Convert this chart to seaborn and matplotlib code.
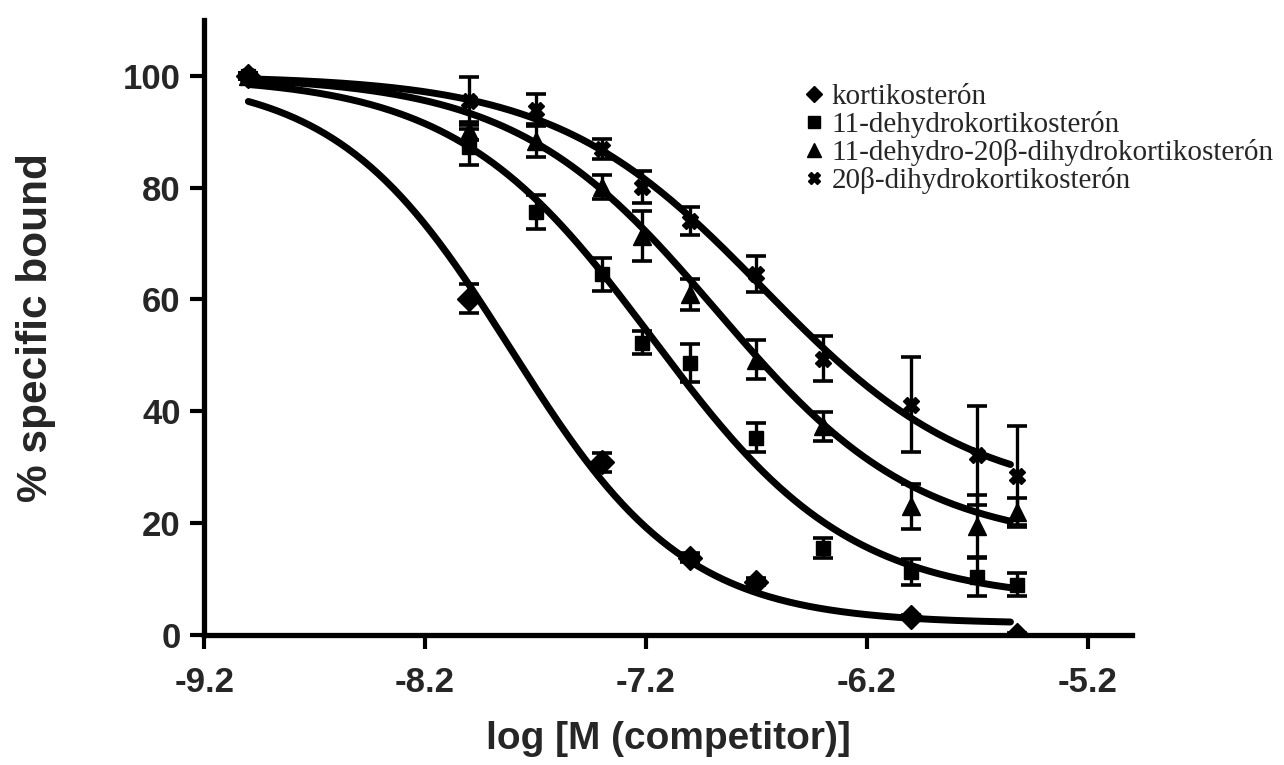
import numpy as np
import pandas as pd
import matplotlib
matplotlib.use("Agg")
import matplotlib.pyplot as plt
import seaborn as sns
from matplotlib.lines import Line2D

# log concentrations (M)
x_korti = [-9.0, -8.0, -7.4, -7.0, -6.7, -6.0, -5.52]
x_all = [-9.0, -8.0, -7.7, -7.4, -7.22, -7.0, -6.7, -6.4, -6.0, -5.7, -5.52]

# % specific bound, mean and error
y_korti = [100, 60.1, 30.9, 13.8, 9.5, 3.2, 0.0]
e_korti = [0.5, 2.6, 1.7, 0.8, 0.6, 0.4, 0.3]

y_dehydro = [100, 87.3, 75.6, 64.5, 52.3, 48.7, 35.3, 15.6, 11.3, 10.4, 9.0]
e_dehydro = [0.5, 3.2, 3.0, 2.9, 2.0, 3.4, 2.6, 1.8, 2.3, 3.5, 2.0]

y_dehydro20b = [100, 90.1, 88.4, 80.1, 71.3, 60.9, 49.2, 37.3, 23.0, 19.4, 21.9]
e_dehydro20b = [0.5, 1.6, 3.0, 2.2, 4.5, 2.7, 3.5, 2.6, 4.0, 5.6, 2.6]

y_dihydro20b = [100, 95.5, 93.9, 86.9, 80.1, 74.0, 64.5, 49.4, 41.2, 32.1, 28.5]
e_dihydro20b = [0.5, 4.3, 2.8, 1.8, 2.8, 2.5, 3.2, 4.0, 8.5, 8.8, 8.8]

labels = ["kortikosterón", "11-dehydrokortikosterón",
          "11-dehydro-20β-dihydrokortikosterón", "20β-dihydrokortikosterón"]
markers = ["D", "s", "^", "X"]

# one-site competition fit: top, bottom, logIC50, hill slope
fit_top = [100, 100, 100, 100]
fit_bottom = [2, 6, 16, 24]
fit_logic50 = [-7.81, -7.17, -6.88, -6.67]
fit_hill = [1.1, 0.97, 0.95, 0.92]
fit_range = (-9.0, -5.55)

sns.set_style("ticks")
plt.rcParams['font.family'] = ['Liberation Sans', 'DejaVu Sans']

fig = plt.figure(figsize=(12.84, 7.65), dpi=100)
ax = fig.add_axes([0.159, 0.170, 0.7226, 0.804])

series = [
    (x_korti, y_korti, e_korti),
    (x_all, y_dehydro, e_dehydro),
    (x_all, y_dehydro20b, e_dehydro20b),
    (x_all, y_dihydro20b, e_dihydro20b),
]
msizes = [12, 10, 13, 12]

xs = np.linspace(fit_range[0], fit_range[1], 300)
curves = []
for i, lab in enumerate(labels):
    yc = fit_bottom[i] + (fit_top[i] - fit_bottom[i]) / (1 + 10 ** (fit_hill[i] * (xs - fit_logic50[i])))
    curves.append(pd.DataFrame({"x": xs, "y": yc, "series": lab}))
curve_df = pd.concat(curves)

for i, (xv, yv, ev) in enumerate(series):
    ax.errorbar(xv, yv, yerr=ev, fmt=markers[i], color="black", ms=msizes[i],
                elinewidth=2.4, capsize=7, capthick=2.6, zorder=3)

sns.lineplot(data=curve_df, x="x", y="y", units="series", estimator=None,
             color="black", linewidth=5, ax=ax, zorder=2, legend=False)

ax.set_xlim(-9.2, -5.0)
ax.set_ylim(0, 110)
ax.set_xticks([-9.2, -8.2, -7.2, -6.2, -5.2])
ax.set_xticklabels(["-9.2", "-8.2", "-7.2", "-6.2", "-5.2"])
ax.set_yticks([0, 20, 40, 60, 80, 100])

for s in ["top", "right"]:
    ax.spines[s].set_visible(False)
for s in ["left", "bottom"]:
    ax.spines[s].set_linewidth(3.8)
    ax.spines[s].set_color("black")
ax.tick_params(axis="both", direction="out", length=10, width=3, color="black",
               labelsize=25)
ax.tick_params(axis="x", pad=12)
ax.tick_params(axis="y", pad=7)
for lbl in ax.get_xticklabels() + ax.get_yticklabels():
    lbl.set_fontweight("bold")

ax.set_xlabel("log [M (competitor)]", fontsize=28, fontweight="bold", labelpad=16)
ax.set_ylabel("% specific bound", fontsize=30.5, fontweight="bold", labelpad=48)

handles = [Line2D([], [], marker=m, color="black", linestyle="none", ms=s)
           for m, s in zip(markers, [8, 8, 10, 9])]
leg = ax.legend(handles, labels, loc="upper left", bbox_to_anchor=(0.632, 0.92),
                frameon=False, handlelength=0.6, handletextpad=0.3,
                labelspacing=0.03, borderpad=0,
                prop={"family": "Liberation Serif", "size": 21})

fig.savefig("out.png", dpi=100)
